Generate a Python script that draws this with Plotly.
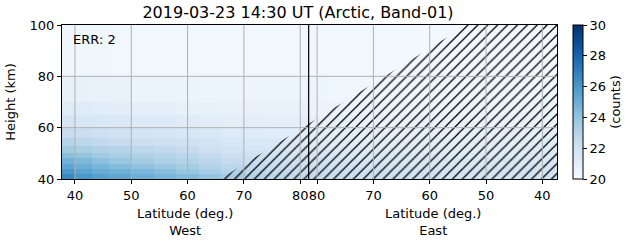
import plotly.graph_objects as go

# ---------------- data ----------------
TITLE = "2019-03-23 14:30 UT (Arctic, Band-01)"
GAP = 3.0                     # gap (deg) between West 80 and East 80 on the axis
MID = 80 + GAP / 2            # divider position

height_edges = [40, 42, 44, 46, 48, 50, 53, 56, 60, 65, 70, 80, 100]

# West latitude bin edges (deg, increasing toward 80)
west_lat_edges = [37.7, 40, 43, 46, 50, 54, 58, 62, 66, 70, 74, 78, 81.5]
# East latitude bin edges (deg, decreasing away from 80)
east_lat_edges = [81.5, 78, 73, 68, 63, 58, 53, 48, 43, 37.4]

west_z = [
    [26.6, 26.0, 25.6, 25.3, 25.0, 24.7, 24.4, 24.0, 23.5, 23.1, 22.8, 22.6],
    [26.0, 25.5, 25.1, 24.9, 24.6, 24.3, 23.9, 23.5, 23.1, 22.8, 22.5, 22.3],
    [25.4, 25.0, 24.7, 24.4, 24.1, 23.8, 23.5, 23.1, 22.8, 22.5, 22.2, 22.1],
    [24.8, 24.5, 24.2, 23.9, 23.6, 23.3, 23.1, 22.8, 22.5, 22.2, 22.0, 21.9],
    [24.2, 24.0, 23.7, 23.4, 23.2, 23.0, 22.8, 22.5, 22.2, 22.0, 21.8, 21.7],
    [23.6, 23.4, 23.2, 23.0, 22.8, 22.6, 22.4, 22.1, 21.9, 21.7, 21.6, 21.5],
    [23.0, 22.8, 22.6, 22.4, 22.2, 22.1, 22.0, 21.8, 21.6, 21.5, 21.4, 21.3],
    [22.4, 22.3, 22.1, 21.9, 21.8, 21.7, 21.6, 21.5, 21.3, 21.2, 21.1, 21.1],
    [21.7, 21.6, 21.5, 21.4, 21.3, 21.3, 21.2, 21.1, 21.0, 21.0, 20.9, 20.9],
    [21.2, 21.2, 21.1, 21.0, 20.9, 20.9, 20.8, 20.8, 20.7, 20.7, 20.7, 20.7],
    [20.8, 20.8, 20.7, 20.7, 20.6, 20.6, 20.6, 20.5, 20.5, 20.5, 20.5, 20.5],
    [20.4, 20.4, 20.4, 20.3, 20.3, 20.3, 20.3, 20.3, 20.3, 20.3, 20.3, 20.3],
]

east_z = [
    [22.4, 22.3, 22.1, 22.0, 21.9, 21.8, 21.8, 21.8, 21.9],
    [22.2, 22.1, 22.0, 21.9, 21.8, 21.7, 21.7, 21.7, 21.8],
    [22.0, 21.9, 21.8, 21.7, 21.6, 21.6, 21.6, 21.6, 21.7],
    [21.8, 21.7, 21.6, 21.5, 21.5, 21.5, 21.5, 21.5, 21.5],
    [21.6, 21.5, 21.4, 21.4, 21.3, 21.3, 21.3, 21.3, 21.4],
    [21.4, 21.3, 21.2, 21.2, 21.1, 21.1, 21.1, 21.2, 21.2],
    [21.2, 21.1, 21.0, 21.0, 21.0, 21.0, 21.0, 21.0, 21.1],
    [21.0, 20.9, 20.9, 20.8, 20.8, 20.8, 20.8, 20.9, 20.9],
    [20.8, 20.8, 20.7, 20.7, 20.7, 20.7, 20.7, 20.7, 20.7],
    [20.6, 20.6, 20.6, 20.5, 20.5, 20.5, 20.5, 20.5, 20.6],
    [20.5, 20.4, 20.4, 20.4, 20.4, 20.4, 20.4, 20.4, 20.4],
    [20.3, 20.3, 20.3, 20.2, 20.2, 20.2, 20.2, 20.2, 20.2],
]

# hatched (invalid) region boundary: (side, latitude, height)
hatch_side = ["W", "E", "E", "E"]
hatch_lat = [65.8, 53.4, 37.4, 37.4]
hatch_h = [40, 100, 100, 40]

west_ticks = [40, 50, 60, 70, 80]
east_ticks = [80, 70, 60, 50, 40]
height_ticks = [40, 60, 80, 100]
cbar_ticks = [20, 22, 24, 26, 28, 30]

# ---------------- mapping ----------------
def u_west(lat):
    return lat

def u_east(lat):
    return 2 * 80 + GAP - lat

def to_u(side, lat):
    return u_west(lat) if side == "W" else u_east(lat)

x_edges = [u_west(v) for v in west_lat_edges] + [u_east(v) for v in east_lat_edges[1:]]
z = [w + e for w, e in zip(west_z, east_z)]

blues = ['rgb(247,251,255)', 'rgb(222,235,247)', 'rgb(198,219,239)',
         'rgb(158,202,225)', 'rgb(107,174,214)', 'rgb(66,146,198)',
         'rgb(33,113,181)', 'rgb(8,81,156)', 'rgb(8,48,107)']
cscale = [[i / (len(blues) - 1), c] for i, c in enumerate(blues)]

FONT = "DejaVu Sans"
fig = go.Figure()
fig.add_trace(go.Heatmap(
    x=x_edges, y=height_edges, z=z, zmin=20, zmax=30, colorscale=cscale,
    colorbar=dict(
        x=1.012, xanchor="left", xpad=10, y=0.5, yanchor="middle", len=1, lenmode="fraction",
        ypad=0, thickness=10, outlinecolor="black", outlinewidth=1,
        tickvals=cbar_ticks, ticks="outside", ticklen=4, tickcolor="black",
        tickfont=dict(family=FONT, size=13, color="black"),
        title=dict(text="(counts)", side="right", font=dict(family=FONT, size=13, color="black")),
    ),
    hoverinfo="skip",
))

hx = [to_u(s, l) for s, l in zip(hatch_side, hatch_lat)]
fig.add_trace(go.Scatter(
    x=hx + [hx[0]], y=hatch_h + [hatch_h[0]], mode="lines", fill="toself",
    line=dict(width=0, color="black"), fillcolor="rgba(0,0,0,0)",
    fillpattern=dict(shape="/", fgcolor="black", bgcolor="rgba(0,0,0,0)",
                     fgopacity=1, size=7, solidity=0.18),
    hoverinfo="skip", showlegend=False,
))

all_xticks = [u_west(v) for v in west_ticks] + [u_east(v) for v in east_ticks]
for xv in all_xticks:
    fig.add_shape(type="line", xref="x", yref="paper", x0=xv, x1=xv, y0=0, y1=1,
                  line=dict(color="#b0b0b0", width=1), layer="above")
for yv in height_ticks[1:-1]:
    fig.add_shape(type="line", xref="paper", yref="y", x0=0, x1=1, y0=yv, y1=yv,
                  line=dict(color="#b0b0b0", width=1), layer="above")
fig.add_shape(type="line", xref="x", yref="paper", x0=MID, x1=MID, y0=0, y1=1,
              line=dict(color="black", width=1.2), layer="above")

fig.update_layout(
    width=631, height=243, margin=dict(l=62, r=74, t=25, b=64, autoexpand=False),
    paper_bgcolor="white", plot_bgcolor="white",
    font=dict(family=FONT, size=13, color="black"),
    title=dict(text=TITLE, x=298 / 631, xanchor="center",
               y=0.95, yanchor="middle", font=dict(family=FONT, size=16, color="black")),
    showlegend=False,
    xaxis=dict(range=[west_lat_edges[0], u_east(east_lat_edges[-1])],
               tickvals=all_xticks, ticktext=[str(v) for v in west_ticks + east_ticks],
               tickangle=0, automargin=False,
               ticks="outside", ticklen=4, tickcolor="black", showgrid=False, zeroline=False,
               showline=True, linecolor="black", linewidth=1, mirror=True,
               tickfont=dict(family=FONT, size=13)),
    yaxis=dict(range=[40, 100], tickvals=height_ticks, ticks="outside", ticklen=4,
               automargin=False,
               tickcolor="black", showgrid=False, zeroline=False, showline=True,
               linecolor="black", linewidth=1, mirror=True,
               title=dict(text="Height (km)", font=dict(family=FONT, size=13), standoff=11),
               tickfont=dict(family=FONT, size=13)),
)

west_center = (west_lat_edges[0] + MID) / 2
east_center = (MID + u_east(east_lat_edges[-1])) / 2
for xc, side in [(west_center, "West"), (east_center, "East")]:
    fig.add_annotation(x=xc, xref="x", y=-0.165, yref="paper", yanchor="top",
                       text=f"Latitude (deg.)<br>{side}", showarrow=False,
                       font=dict(family=FONT, size=13, color="black"))
fig.add_annotation(x=0.018, xref="paper", y=0.97, yref="paper", xanchor="left", yanchor="top",
                   text="ERR: 2", showarrow=False, font=dict(family=FONT, size=13, color="black"))

fig.write_html("out.html")
